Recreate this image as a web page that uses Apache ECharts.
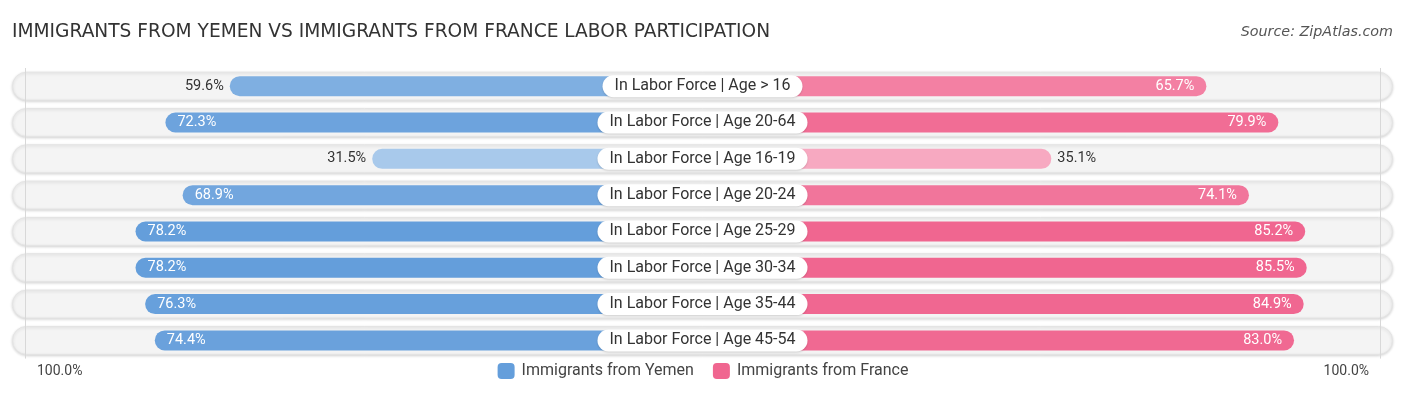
<!DOCTYPE html>
<html>
<head>
<meta charset="utf-8">
<script src="https://cdn.jsdelivr.net/npm/echarts@6/dist/echarts.min.js"></script>
<style>
html,body{margin:0;padding:0;background:#fff;}
#chart{width:1406px;height:395px;}
</style>
</head>
<body>
<div id="chart"></div>
<script>
const categories = [
  'In Labor Force | Age > 16',
  'In Labor Force | Age 20-64',
  'In Labor Force | Age 16-19',
  'In Labor Force | Age 20-24',
  'In Labor Force | Age 25-29',
  'In Labor Force | Age 30-34',
  'In Labor Force | Age 35-44',
  'In Labor Force | Age 45-54'
];
const yemen = [59.6, 72.3, 31.5, 68.9, 78.2, 78.2, 76.3, 74.4];
const france = [65.7, 79.9, 35.1, 74.1, 85.2, 85.5, 84.9, 83.0];
const seriesNames = ['Immigrants from Yemen', 'Immigrants from France'];
const axisEndLabels = ['100.0%', '100.0%'];

const OFFSET = 33.7;        // part of each bar hidden under the centre label
const BLUE = [100, 158, 219];
const PINK = [240, 102, 144];
const INSIDE_MIN = 62;

function tone(base, v, arr) {
  const mn = Math.min(...arr), mx = Math.max(...arr);
  const a = 0.56 + 0.44 * (v - mn) / (mx - mn);
  const c = base.map(ch => Math.round(255 - a * (255 - ch)));
  return 'rgb(' + c.join(',') + ')';
}

function sideData(arr, base, side) {
  return arr.map(v => {
    const inside = v >= INSIDE_MIN;
    return {
      value: v + OFFSET,
      raw: v,
      itemStyle: { color: tone(base, v, arr) },
      label: inside
        ? { position: side === 'L' ? 'insideLeft' : 'insideRight', distance: 12, color: '#fff' }
        : { position: side === 'L' ? 'left' : 'right', distance: 6, color: '#333' }
    };
  });
}

const ROW_TOP = 68, ROW_H = 290.6;
const FONT = 'Roboto, "Noto Sans", sans-serif';
const TFONT = '"DejaVu Sans", "Open Sans", sans-serif';

const chart = echarts.init(document.getElementById('chart'), null, { renderer: 'canvas' });

const option = {
  animation: false,
  textStyle: { fontFamily: FONT },
  title: [
    { text: 'IMMIGRANTS FROM YEMEN VS IMMIGRANTS FROM FRANCE LABOR PARTICIPATION',
      left: 12, top: 23, padding: 0,
      textStyle: { fontSize: 18.6, fontWeight: 'normal', color: '#333', fontFamily: TFONT } },
    { text: 'Source: ZipAtlas.com', right: 13, top: 25, padding: 0,
      textStyle: { fontSize: 14.3, fontWeight: 'normal', fontStyle: 'italic', color: '#555', fontFamily: TFONT } }
  ],
  legend: {
    data: seriesNames,
    left: 'center', top: 358,
    icon: 'roundRect', itemWidth: 17, itemHeight: 16, itemGap: 19,
    textStyle: { fontSize: 16, color: '#444', fontFamily: FONT, padding: [0, 0, 0, 2] }
  },
  grid: [
    { left: 12, right: 13, top: ROW_TOP, height: ROW_H },
    { left: 25, width: 677.7, top: ROW_TOP, height: ROW_H },
    { left: 702.7, width: 677.5, top: ROW_TOP, height: ROW_H }
  ],
  xAxis: [
    { gridIndex: 0, type: 'value', min: 0, max: 1, show: false },
    { gridIndex: 1, type: 'value', min: 0, max: 100 + OFFSET, inverse: true, show: false },
    { gridIndex: 2, type: 'value', min: 0, max: 100 + OFFSET, show: false }
  ],
  yAxis: [0, 1, 2].map(i => ({
    gridIndex: i, type: 'category', data: categories, inverse: true, show: false
  })),
  graphic: [
    { type: 'text', left: 37, top: 364, style: { text: axisEndLabels[0], fontSize: 14, fill: '#444', fontFamily: FONT } },
    { type: 'text', right: 37, top: 364, style: { text: axisEndLabels[1], fontSize: 14, fill: '#444', fontFamily: FONT } }
  ],
  series: [
    {
      type: 'bar', xAxisIndex: 0, yAxisIndex: 0, silent: true, z: 1,
      barWidth: 29, barGap: '-100%',
      data: categories.map(() => 1),
      itemStyle: { color: '#f4f4f4', borderRadius: 14.5, borderColor: '#e4e4e4', borderWidth: 1,
        shadowBlur: 3, shadowColor: 'rgba(0,0,0,0.16)', shadowOffsetY: 1 }
    },
    {
      name: seriesNames[0], type: 'bar', xAxisIndex: 1, yAxisIndex: 1, z: 3,
      barWidth: 20, color: 'rgb(' + BLUE.join(',') + ')',
      itemStyle: { borderRadius: 10 },
      data: sideData(yemen, BLUE, 'L'),
      label: { show: true, fontSize: 14.5, fontFamily: FONT,
        formatter: p => p.data.raw.toFixed(1) + '%' },
      markLine: { silent: true, symbol: 'none', label: { show: false },
        lineStyle: { color: '#d8d8d8', width: 1, type: 'solid' },
        data: [{ xAxis: 100 + OFFSET }] }
    },
    {
      name: seriesNames[1], type: 'bar', xAxisIndex: 2, yAxisIndex: 2, z: 3,
      barWidth: 20, color: 'rgb(' + PINK.join(',') + ')',
      itemStyle: { borderRadius: 10 },
      data: sideData(france, PINK, 'R'),
      label: { show: true, fontSize: 14.5, fontFamily: FONT,
        formatter: p => p.data.raw.toFixed(1) + '%' },
      markLine: { silent: true, symbol: 'none', label: { show: false },
        lineStyle: { color: '#d8d8d8', width: 1, type: 'solid' },
        data: [{ xAxis: 100 + OFFSET }] }
    },
    {
      type: 'bar', xAxisIndex: 0, yAxisIndex: 0, silent: true, z: 10,
      barWidth: 29, barGap: '-100%',
      data: categories.map(() => 1),
      itemStyle: { color: 'rgba(0,0,0,0)' },
      label: { show: true, position: 'inside', formatter: p => p.name,
        fontSize: 16, color: '#333', fontFamily: FONT,
        backgroundColor: '#fff', borderRadius: 11, padding: [3, 12, 3, 12],
        shadowBlur: 2, shadowColor: 'rgba(0,0,0,0.15)', shadowOffsetY: 1 }
    }
  ]
};
chart.setOption(option);
</script>
</body>
</html>
